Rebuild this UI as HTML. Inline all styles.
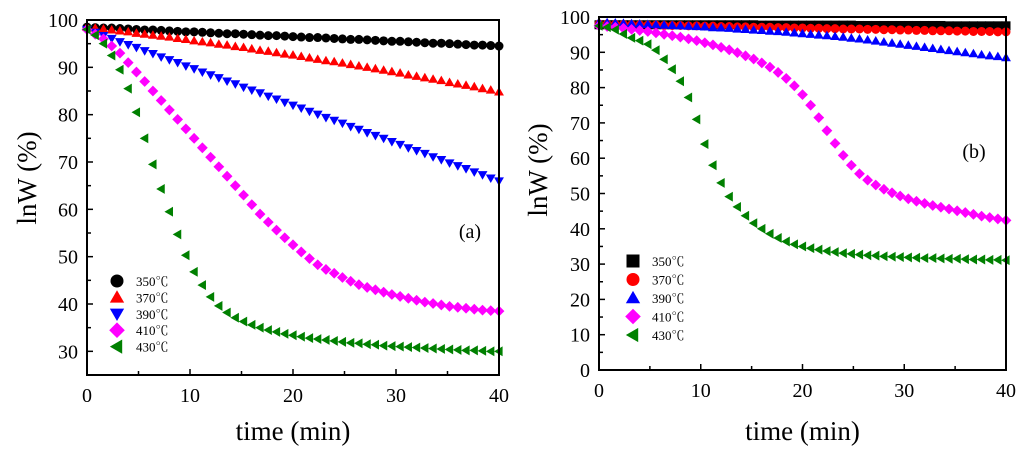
<!DOCTYPE html>
<html><head><meta charset="utf-8">
<style>
html,body{margin:0;padding:0;background:#fff;}
svg{display:block;font-family:"Liberation Serif","Noto Serif CJK SC",serif;}
</style></head>
<body>
<svg id="chart" width="1024" height="449" viewBox="0 0 1024 449" xmlns="http://www.w3.org/2000/svg"></svg>
<script>
const times = [0,0.8,1.6,2.4,3.2,4,4.8,5.6,6.4,7.2,8,8.8,9.6,10.4,11.2,12,12.8,13.6,14.4,15.2,16,16.8,17.6,18.4,19.2,20,20.8,21.6,22.4,23.2,24,24.8,25.6,26.4,27.2,28,28.8,29.6,30.4,31.2,32,32.8,33.6,34.4,35.2,36,36.8,37.6,38.4,39.2,40];
const seriesLabels = ["350℃","370℃","390℃","410℃","430℃"];
const xTicks = [0,10,20,30,40];
const yTicksA = [30,40,50,60,70,80,90,100];
const yTicksB = [0,10,20,30,40,50,60,70,80,90,100];

const a350 = [98.5,98.4,98.3,98.3,98.2,98.1,98.0,97.9,97.9,97.8,97.7,97.6,97.5,97.5,97.4,97.3,97.2,97.1,97.1,97.0,96.9,96.8,96.7,96.7,96.6,96.5,96.4,96.3,96.3,96.2,96.1,96.0,95.9,95.9,95.8,95.7,95.6,95.5,95.5,95.4,95.3,95.2,95.1,95.1,95.0,94.9,94.8,94.7,94.7,94.6,94.5];
const a370 = [98.5,98.3,98.1,97.9,97.7,97.5,97.2,97.0,96.8,96.6,96.4,96.1,95.9,95.6,95.4,95.2,94.9,94.7,94.4,94.2,93.9,93.6,93.4,93.1,92.8,92.6,92.3,92.0,91.7,91.4,91.2,90.9,90.6,90.3,90.0,89.7,89.4,89.1,88.8,88.4,88.1,87.8,87.5,87.2,86.8,86.5,86.2,85.9,85.5,85.2,84.8];
const a390 = [98,97.4,96.7,96.1,95.4,94.8,94.2,93.5,92.9,92.2,91.6,91.0,90.3,89.7,89.0,88.4,87.8,87.1,86.5,85.8,85.2,84.6,83.9,83.3,82.6,82.0,81.4,80.7,80.1,79.4,78.8,78.2,77.5,76.9,76.2,75.6,75.0,74.3,73.7,73.0,72.4,71.8,71.1,70.5,69.8,69.2,68.6,67.9,67.3,66.6,66.0];
const a410 = [98,97,96,94.5,93,91,89,87,85,83,81,79,77,75,73,71,69,67,65,63,61,59,57.3,55.6,54,52.5,51,49.6,48.3,47.3,46.5,45.6,44.8,44.1,43.5,43.0,42.5,42.0,41.6,41.2,40.8,40.4,40.1,39.8,39.5,39.3,39.1,38.9,38.7,38.6,38.5];
const a430 = [98,96.8,95,92.5,89.5,85.5,80.5,75,69.5,64.3,59.5,54.7,50.3,46.8,44,41.5,39.6,38.2,37.1,36.3,35.6,35.0,34.5,34.1,33.7,33.4,33.1,32.8,32.6,32.4,32.2,32.0,31.8,31.7,31.5,31.4,31.2,31.1,31.0,30.9,30.8,30.7,30.6,30.5,30.4,30.3,30.2,30.2,30.1,30.0,30.0];

const b350 = [97.8,97.8,97.8,97.8,97.8,97.8,97.8,97.8,97.8,97.8,97.8,97.8,97.8,97.8,97.8,97.8,97.8,97.8,97.8,97.8,97.7,97.7,97.7,97.7,97.7,97.7,97.7,97.7,97.7,97.7,97.7,97.7,97.6,97.6,97.6,97.6,97.6,97.6,97.6,97.6,97.6,97.6,97.6,97.5,97.5,97.5,97.5,97.5,97.5,97.5,97.5];
const b370 = [98.0,98.0,97.9,97.9,97.8,97.8,97.7,97.7,97.6,97.6,97.6,97.5,97.5,97.4,97.4,97.3,97.3,97.2,97.2,97.1,97.1,97.1,97.0,97.0,96.9,96.9,96.8,96.8,96.7,96.7,96.6,96.6,96.6,96.5,96.5,96.4,96.4,96.3,96.3,96.2,96.2,96.1,96.1,96.1,96.0,96.0,95.9,95.9,95.9,95.8,95.8];
const b390 = [98.5,98.4,98.3,98.2,98.1,98.0,97.9,97.8,97.7,97.6,97.5,97.4,97.3,97.2,97.0,96.9,96.8,96.6,96.5,96.3,96.2,96.0,95.9,95.7,95.5,95.3,95.1,94.9,94.7,94.5,94.3,94.0,93.8,93.5,93.2,92.9,92.6,92.3,92.0,91.7,91.4,91.1,90.8,90.5,90.2,89.9,89.6,89.3,89.0,88.8,88.5];
const b410 = [97.5,97.3,97.1,96.8,96.5,96.2,95.9,95.5,95.1,94.7,94.3,93.8,93.3,92.7,92.1,91.4,90.7,89.9,89.0,88.1,87,85.8,84.3,82.6,80.5,78,75,71.5,67.8,64.2,60.8,58,55.6,53.8,52.4,51.2,50.2,49.3,48.5,47.8,47.2,46.6,46.1,45.6,45.1,44.6,44.1,43.6,43.2,42.8,42.4];
const b430 = [97.5,97.1,96.4,95.2,94.1,93.3,92.3,90.6,88,85.2,81.8,77.2,71,64,58,53,49.1,46.2,43.7,41.6,40,38.6,37.4,36.4,35.6,35,34.5,34.1,33.7,33.4,33.1,32.9,32.7,32.5,32.4,32.2,32.1,32,31.9,31.8,31.7,31.7,31.6,31.5,31.5,31.4,31.3,31.3,31.2,31.2,31.1];

const NS = "http://www.w3.org/2000/svg";
const svg = document.getElementById('chart');
function mk(tag, attrs, parent){
  const e = document.createElementNS(NS, tag);
  for (const k in attrs) e.setAttribute(k, attrs[k]);
  (parent||svg).appendChild(e);
  return e;
}
function marker(shape, cx, cy, r, color, parent){
  let e;
  if (shape==='circle') e = mk('circle',{cx:cx,cy:cy,r:r,fill:color},parent);
  else if (shape==='square') e = mk('rect',{x:cx-r,y:cy-r,width:2*r,height:2*r,fill:color},parent);
  else {
    let p;
    if (shape==='up') p=[[cx,cy-r*1.1],[cx+r*1.1,cy+r*0.8],[cx-r*1.1,cy+r*0.8]];
    else if (shape==='down') p=[[cx,cy+r*1.1],[cx+r*1.1,cy-r*0.8],[cx-r*1.1,cy-r*0.8]];
    else if (shape==='diamond') p=[[cx,cy-r*1.2],[cx+r*1.2,cy],[cx,cy+r*1.2],[cx-r*1.2,cy]];
    else p=[[cx-r*1.1,cy],[cx+r*0.8,cy-r*1.1],[cx+r*0.8,cy+r*1.1]];
    e = mk('polygon',{points:p.map(q=>q.join(',')).join(' '),fill:color},parent);
  }
  return e;
}

function panel(cfg){
  const g = mk('g',{});
  
  
  const X = v => cfg.x0 + (v - 0) / 40 * (cfg.x1 - cfg.x0);
  const Y = v => cfg.yb - (v - cfg.ymin) / (cfg.ymax - cfg.ymin) * (cfg.yb - cfg.yt);
  cfg.series.forEach((s, si) => {
    const sg = mk('g',{},g);
    
    
    s.vals.forEach((v, i) => {
      const m = marker(s.shape, X(times[i]), Y(v), 4.5, s.color, sg);
      
      
    });
  });
  const fr = mk('rect',{x:cfg.x0,y:cfg.yt,width:cfg.x1-cfg.x0,height:cfg.yb-cfg.yt,fill:'none',stroke:'#000','stroke-width':2},g);
  
  
  for (let v = 0; v <= 40; v += 5) {
    const len = v % 10 === 0 ? 6 : 4;
    mk('line',{x1:X(v),x2:X(v),y1:cfg.yb,y2:cfg.yb-len,stroke:'#000','stroke-width':1.5},g);
  }
  xTicks.forEach(v => {
    const t = mk('text',{x:X(v),y:cfg.yb+27,'text-anchor':'middle','font-size':20},g);
    t.textContent = v;
    
    
  });
  for (let v = cfg.ymin; v <= cfg.ymax; v += 5) {
    if (v % 5) continue;
    const len = v % 10 === 0 ? 6 : 4;
    mk('line',{x1:cfg.x0,x2:cfg.x0+len,y1:Y(v),y2:Y(v),stroke:'#000','stroke-width':1.5},g);
  }
  cfg.yTicks.forEach(v => {
    const t = mk('text',{x:cfg.x0-9,y:Y(v)+7,'text-anchor':'end','font-size':20},g);
    t.textContent = v;
    
    
  });
  const xt = mk('text',{x:(cfg.x0+cfg.x1)/2,y:440,'text-anchor':'middle','font-size':27},g);
  xt.textContent = 'time (min)';
  
  
  const yt = mk('text',{x:0,y:0,'text-anchor':'middle','font-size':27,transform:'translate('+cfg.ytx+','+cfg.yty+') rotate(-90)'},g);
  yt.textContent = 'lnW (%)';
  
  
  const pl = mk('text',{x:cfg.plx,y:cfg.ply,'text-anchor':'middle','font-size':20},g);
  pl.textContent = cfg.label;
  
  
  const lg = mk('g',{},g);
  
  
  cfg.series.forEach((s, si) => {
    const ly = cfg.ly0 + si * cfg.ldy;
    const ent = mk('g',{},lg);
    
    
    marker(s.shape, cfg.lx, ly, 6.5, s.color, ent);
    const t = mk('text',{x:cfg.lx+19,y:ly+5,'font-size':13},ent);
    t.textContent = seriesLabels[si];
  });
}

panel({name:'panel-a', x0:87, x1:499, yt:20, yb:375, ymin:25, ymax:100, yTicks:yTicksA,
  ytx:36, yty:178, label:'(a)', plx:470, ply:238, lx:117, ly0:281, ldy:16.4,
  series:[{vals:a350,shape:'circle',color:'#000'},{vals:a370,shape:'up',color:'#ff0000'},
          {vals:a390,shape:'down',color:'#0000ff'},{vals:a410,shape:'diamond',color:'#ff00ff'},
          {vals:a430,shape:'left',color:'#008000'}]});
panel({name:'panel-b', x0:599, x1:1006, yt:17, yb:370, ymin:0, ymax:100, yTicks:yTicksB,
  ytx:547, yty:170, label:'(b)', plx:974, ply:158, lx:633, ly0:261, ldy:18.5,
  series:[{vals:b350,shape:'square',color:'#000'},{vals:b370,shape:'circle',color:'#ff0000'},
          {vals:b390,shape:'up',color:'#0000ff'},{vals:b410,shape:'diamond',color:'#ff00ff'},
          {vals:b430,shape:'left',color:'#008000'}]});
</script>
</body></html>
